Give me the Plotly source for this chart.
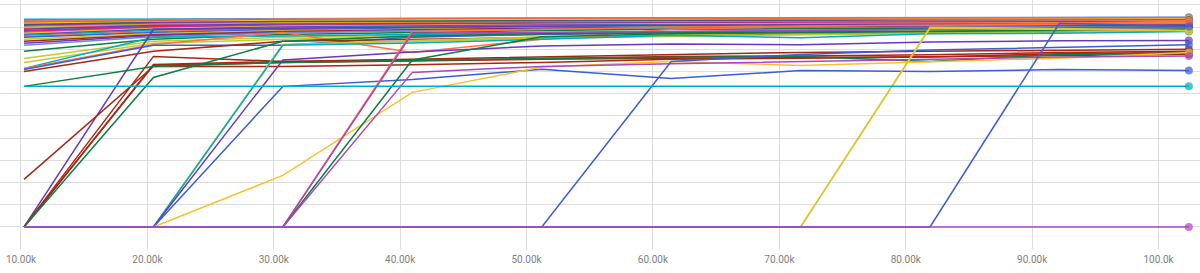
import plotly.graph_objects as go

steps = [10240, 20480, 30720, 40960, 51200, 61440, 71680, 81920, 92160, 102400]

tick_vals = [10000, 20000, 30000, 40000, 50000, 60000, 70000, 80000, 90000, 100000]
tick_text = ["10.00k", "20.00k", "30.00k", "40.00k", "50.00k", "60.00k", "70.00k", "80.00k", "90.00k", "100.0k"]

# --- runs in the dense top bundle ---
run_t01 = [0.935, 0.937, 0.938, 0.938, 0.939, 0.940, 0.940, 0.941, 0.942, 0.943]
run_t02 = [0.930, 0.935, 0.938, 0.940, 0.941, 0.942, 0.943, 0.943, 0.944, 0.944]
run_t03 = [0.926, 0.932, 0.935, 0.937, 0.937, 0.938, 0.938, 0.939, 0.940, 0.940]
run_t04 = [0.921, 0.928, 0.932, 0.934, 0.935, 0.935, 0.936, 0.937, 0.937, 0.936]
run_t05 = [0.917, 0.925, 0.930, 0.932, 0.933, 0.934, 0.935, 0.935, 0.936, 0.936]
run_t06 = [0.912, 0.921, 0.925, 0.928, 0.929, 0.930, 0.930, 0.931, 0.932, 0.932]
run_t07 = [0.908, 0.918, 0.922, 0.925, 0.926, 0.926, 0.925, 0.927, 0.928, 0.928]
run_t08 = [0.903, 0.915, 0.920, 0.922, 0.923, 0.924, 0.925, 0.926, 0.926, 0.927]
run_t09 = [0.899, 0.912, 0.918, 0.920, 0.922, 0.923, 0.924, 0.925, 0.925, 0.926]
run_t10 = [0.894, 0.910, 0.916, 0.919, 0.921, 0.923, 0.924, 0.925, 0.926, 0.927]
run_t11 = [0.890, 0.907, 0.913, 0.916, 0.918, 0.920, 0.921, 0.922, 0.923, 0.924]
run_t12 = [0.885, 0.903, 0.910, 0.913, 0.915, 0.917, 0.918, 0.915, 0.913, 0.912]
run_t13 = [0.881, 0.900, 0.908, 0.912, 0.915, 0.917, 0.919, 0.920, 0.921, 0.922]
run_t14 = [0.876, 0.897, 0.906, 0.910, 0.913, 0.915, 0.917, 0.918, 0.919, 0.920]
run_t15 = [0.872, 0.894, 0.904, 0.909, 0.912, 0.914, 0.916, 0.917, 0.918, 0.919]
run_t16 = [0.867, 0.890, 0.900, 0.906, 0.909, 0.911, 0.913, 0.914, 0.915, 0.916]
run_t17 = [0.863, 0.886, 0.897, 0.903, 0.906, 0.909, 0.911, 0.912, 0.913, 0.914]
run_t18 = [0.858, 0.880, 0.893, 0.900, 0.904, 0.907, 0.909, 0.911, 0.912, 0.913]
run_t19 = [0.854, 0.876, 0.888, 0.895, 0.900, 0.903, 0.906, 0.908, 0.909, 0.910]
run_t20 = [0.845, 0.870, 0.884, 0.892, 0.897, 0.900, 0.903, 0.905, 0.906, 0.907]
run_t21 = [0.836, 0.866, 0.880, 0.889, 0.895, 0.898, 0.901, 0.903, 0.905, 0.906]
run_t22 = [0.827, 0.862, 0.877, 0.886, 0.892, 0.896, 0.899, 0.901, 0.903, 0.905]
run_t23 = [0.818, 0.857, 0.874, 0.884, 0.890, 0.894, 0.897, 0.899, 0.901, 0.902]

# --- runs starting lower ---
run_m01 = [0.791, 0.845, 0.867, 0.876, 0.885, 0.890, 0.893, 0.896, 0.898, 0.900]
run_m02 = [0.759, 0.836, 0.854, 0.863, 0.872, 0.880, 0.885, 0.888, 0.890, 0.892]
run_m03 = [0.741, 0.827, 0.845, 0.858, 0.868, 0.876, 0.880, 0.884, 0.887, 0.889]
run_m04 = [0.714, 0.854, 0.860, 0.868, 0.874, 0.878, 0.872, 0.880, 0.884, 0.886]
run_m05 = [0.714, 0.822, 0.876, 0.786, 0.845, 0.890, 0.903, 0.912, 0.917, 0.926]
run_m06 = [0.709, 0.818, 0.818, 0.854, 0.867, 0.876, 0.885, 0.890, 0.894, 0.899]
run_m07 = [0.700, 0.791, 0.836, 0.845, 0.855, 0.862, 0.870, 0.875, 0.880, 0.885]

# --- runs that start from zero or low ---
run_z01 = [0.000, 0.890, 0.895, 0.900, 0.905, 0.908, 0.910, 0.912, 0.913, 0.914]
run_z02 = [0.000, 0.768, 0.745, 0.750, 0.759, 0.768, 0.770, 0.775, 0.786, 0.791]
run_z03 = [0.000, 0.732, 0.745, 0.755, 0.768, 0.777, 0.786, 0.791, 0.795, 0.800]
run_z04 = [0.214, 0.723, 0.723, 0.730, 0.741, 0.755, 0.760, 0.765, 0.780, 0.786]
run_z05 = [0.000, 0.728, 0.740, 0.748, 0.755, 0.760, 0.762, 0.766, 0.772, 0.778]
run_z06 = [0.000, 0.673, 0.836, 0.860, 0.870, 0.875, 0.878, 0.880, 0.885, 0.890]
run_z07 = [0.633, 0.723, 0.741, 0.750, 0.759, 0.764, 0.768, 0.745, 0.777, 0.782]
run_z08 = [0.000, 0.000, 0.822, 0.836, 0.850, 0.858, 0.865, 0.872, 0.878, 0.885]
run_z09 = [0.000, 0.000, 0.820, 0.840, 0.856, 0.866, 0.872, 0.878, 0.882, 0.887]
run_z10 = [0.000, 0.000, 0.818, 0.828, 0.845, 0.863, 0.852, 0.870, 0.872, 0.880]
run_z11 = [0.000, 0.000, 0.752, 0.788, 0.815, 0.824, 0.820, 0.833, 0.838, 0.840]
run_z12 = [0.000, 0.000, 0.633, 0.664, 0.710, 0.668, 0.704, 0.700, 0.709, 0.705]
run_z13 = [0.000, 0.000, 0.232, 0.606, 0.720, 0.745, 0.727, 0.745, 0.760, 0.785]
run_z14 = [0.000, 0.000, 0.000, 0.880, 0.890, 0.899, 0.905, 0.910, 0.915, 0.917]
run_z15 = [0.000, 0.000, 0.000, 0.872, 0.876, 0.881, 0.885, 0.890, 0.894, 0.898]
run_z16 = [0.000, 0.000, 0.000, 0.752, 0.856, 0.870, 0.876, 0.880, 0.885, 0.890]
run_z17 = [0.000, 0.000, 0.000, 0.696, 0.723, 0.735, 0.745, 0.755, 0.765, 0.770]
run_z18 = [0.000, 0.000, 0.000, 0.000, 0.000, 0.745, 0.777, 0.797, 0.810, 0.820]
run_z20 = [0.000, 0.000, 0.000, 0.000, 0.000, 0.000, 0.000, 0.895, 0.890, 0.883]
run_z19 = [0.000, 0.000, 0.000, 0.000, 0.000, 0.000, 0.000, 0.899, 0.894, 0.885]
run_z21 = [0.000, 0.000, 0.000, 0.000, 0.000, 0.000, 0.000, 0.000, 0.917, 0.903]
run_z22 = [0.633, 0.633, 0.633, 0.632, 0.633, 0.633, 0.633, 0.632, 0.633, 0.633]
run_z23 = [0.000, 0.000, 0.000, 0.000, 0.000, 0.000, 0.000, 0.000, 0.000, 0.000]

BLUE = "#3b5fcf"
RED = "#a52714"
GREEN = "#0b8043"
PURPLE = "#673ab7"
MAGENTA = "#ab47bc"
TEAL = "#00acc1"
LIME = "#c0ca33"
GOLD = "#fbc02d"
OLIVE = "#d4c833"
ORANGE = "#ff7043"
PINK = "#e91e63"
GREYBLUE = "#7986cb"
BRIGHTRED = "#db4437"

series = [
    (run_t01, TEAL), (run_t02, GREYBLUE), (run_t03, ORANGE), (run_t04, BRIGHTRED),
    (run_t05, GOLD), (run_t06, GREEN), (run_t07, PURPLE), (run_t08, MAGENTA),
    (run_t09, LIME), (run_t10, ORANGE), (run_t11, PURPLE), (run_t12, BLUE),
    (run_t13, PINK), (run_t14, MAGENTA), (run_t15, GOLD), (run_t16, PURPLE),
    (run_t17, TEAL), (run_t18, ORANGE), (run_t19, BLUE), (run_t20, LIME),
    (run_t21, RED), (run_t22, PURPLE), (run_t23, GREYBLUE),
    (run_m01, GREEN), (run_m02, LIME), (run_m03, LIME), (run_m04, TEAL),
    (run_m05, ORANGE), (run_m06, BLUE), (run_m07, RED),
    (run_z01, PURPLE), (run_z02, RED), (run_z03, RED), (run_z04, RED),
    (run_z05, RED), (run_z06, GREEN), (run_z07, GREEN), (run_z08, LIME),
    (run_z09, LIME), (run_z10, TEAL), (run_z11, PURPLE), (run_z12, BLUE),
    (run_z13, GOLD), (run_z14, ORANGE), (run_z15, MAGENTA), (run_z16, GREEN),
    (run_z17, MAGENTA), (run_z18, BLUE), (run_z20, GOLD), (run_z19, OLIVE),
    (run_z21, BLUE), (run_z22, TEAL), (run_z23, MAGENTA),
]

fig = go.Figure()
for vals, col in series:
    sizes = [0] * (len(vals) - 1) + [8]
    fig.add_trace(go.Scatter(
        x=steps, y=vals, mode="lines+markers",
        line=dict(color=col, width=1.5),
        marker=dict(color=col, size=sizes, line=dict(width=0)),
        hoverinfo="skip", showlegend=False,
    ))

grid = "#dedede"
fig.update_layout(
    width=1200, height=273,
    margin=dict(l=0, r=0, t=0, b=23),
    paper_bgcolor="white", plot_bgcolor="white",
    showlegend=False,
    xaxis=dict(
        range=[8340, 103280], tickvals=tick_vals, ticktext=tick_text,
        showgrid=True, gridcolor=grid, gridwidth=1, zeroline=False,
        showline=False, ticks="", ticklabelstandoff=2,
        tickfont=dict(family="Roboto", size=10, color="#808080"),
    ),
    yaxis=dict(
        range=[-0.104, 1.022], tick0=0, dtick=0.1, showticklabels=False,
        showgrid=True, gridcolor=grid, gridwidth=1, zeroline=False,
        showline=False, ticks="",
    ),
)

fig.write_html("out.html")
